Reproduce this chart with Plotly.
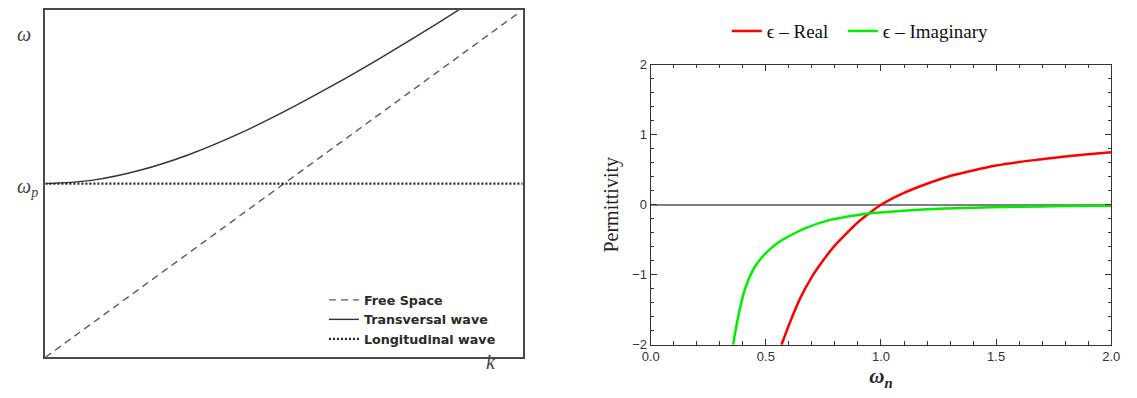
import plotly.graph_objects as go

# ---------------- data: left panel (dispersion relation) ----------------
k_free = [0.0, 0.99]
w_free = [0.0, 0.99]

k_trans = [0.0, 0.1, 0.2, 0.3, 0.4, 0.5, 0.6, 0.7, 0.8, 0.866]
w_trans = [0.500, 0.510, 0.539, 0.583, 0.640, 0.707, 0.781, 0.860, 0.943, 1.000]

k_long = [0.0, 1.0]
w_long = [0.50, 0.50]

# ---------------- data: right panel (permittivity) ----------------
wn_real = [0.568, 0.60, 0.65, 0.70, 0.75, 0.80, 0.85, 0.90, 0.95, 1.0,
           1.1, 1.2, 1.3, 1.4, 1.5, 1.6, 1.7, 1.8, 1.9, 2.0]
eps_real = [-2.0, -1.72, -1.33, -1.03, -0.79, -0.58, -0.41, -0.25, -0.12, 0.0,
            0.17, 0.30, 0.41, 0.49, 0.56, 0.61, 0.65, 0.69, 0.72, 0.75]

wn_imag = [0.358, 0.38, 0.41, 0.45, 0.50, 0.55, 0.60, 0.675, 0.775, 0.90,
           1.0, 1.2, 1.4, 1.6, 1.8, 2.0]
eps_imag = [-2.0, -1.60, -1.20, -0.90, -0.69, -0.55, -0.45, -0.33, -0.22, -0.145,
            -0.11, -0.065, -0.042, -0.028, -0.019, -0.013]

x_ticks = [0.0, 0.5, 1.0, 1.5, 2.0]
x_tick_text = ["0.0", "0.5", "1.0", "1.5", "2.0"]
y_ticks = [-2, -1, 0, 1, 2]

SERIF = "Liberation Serif"
SANS = "Liberation Sans"
LEG = "DejaVu Sans"

W, H = 1137, 398


def px(x):
    return x / W


def py(y):
    return 1 - y / H


fig = go.Figure()

# left panel traces
fig.add_trace(go.Scatter(x=k_free, y=w_free, mode="lines", name="<b>Free Space</b>",
                         line=dict(color="#5a5a5a", width=1.4, dash="7px,5px"),
                         xaxis="x", yaxis="y", legend="legend2"))
fig.add_trace(go.Scatter(x=k_trans, y=w_trans, mode="lines", name="<b>Transversal wave</b>",
                         line=dict(color="#333333", width=1.4, shape="spline"),
                         xaxis="x", yaxis="y", legend="legend2"))
fig.add_trace(go.Scatter(x=k_long, y=w_long, mode="lines", name="<b>Longitudinal wave</b>",
                         line=dict(color="#222222", width=2.2, dash="2px,2px"),
                         xaxis="x", yaxis="y", legend="legend2"))

# right panel traces
fig.add_trace(go.Scatter(x=wn_real, y=eps_real, mode="lines", name="ϵ – Real\u00a0\u00a0",
                         line=dict(color="#ff0000", width=2.5, shape="spline"),
                         xaxis="x2", yaxis="y2", legend="legend"))
fig.add_trace(go.Scatter(x=wn_imag, y=eps_imag, mode="lines", name="ϵ – Imaginary",
                         line=dict(color="#00ee00", width=2.5, shape="spline"),
                         xaxis="x2", yaxis="y2", legend="legend"))

fig.update_layout(
    width=W, height=H,
    margin=dict(l=0, r=0, t=0, b=0),
    paper_bgcolor="white", plot_bgcolor="white",
    showlegend=True,
    xaxis=dict(domain=[px(37), px(522)], range=[0, 1], showticklabels=False, ticks="",
               showgrid=False, zeroline=False, showline=True, mirror=True,
               linecolor="#4a4a4a", linewidth=1.5, fixedrange=True),
    yaxis=dict(domain=[py(364), py(3)], range=[0, 1], showticklabels=False, ticks="",
               showgrid=False, zeroline=False, showline=True, mirror=True,
               linecolor="#4a4a4a", linewidth=1.5, fixedrange=True),
    xaxis2=dict(domain=[px(652), px(1120)], range=[0, 2], anchor="y2",
                tickvals=x_ticks, ticktext=x_tick_text, ticks="inside", ticklen=6, tickwidth=1,
                tickcolor="#333", mirror="allticks", showline=True, linecolor="#333", linewidth=1.2,
                showgrid=False, zeroline=False,
                minor=dict(dtick=0.1, ticks="inside", ticklen=3.5, tickwidth=1, tickcolor="#333"),
                tickfont=dict(family=SANS, size=13, color="#333"),
                title=dict(text="<b><i>ω<sub>n</sub></i></b>", font=dict(family=SERIF, size=21, color="#222"),
                           standoff=3)),
    yaxis2=dict(domain=[py(351), py(60)], range=[-2, 2], anchor="x2",
                tickvals=y_ticks, ticks="inside", ticklen=6, tickwidth=1,
                tickcolor="#333", mirror="allticks", showline=True, linecolor="#333", linewidth=1.2,
                showgrid=False, zeroline=True, zerolinecolor="#808080", zerolinewidth=2,
                minor=dict(dtick=0.2, ticks="inside", ticklen=3.5, tickwidth=1, tickcolor="#333"),
                tickfont=dict(family=SANS, size=13, color="#333"),
                title=dict(text="Permittivity", font=dict(family=SERIF, size=20, color="#222"),
                           standoff=8)),
    legend=dict(orientation="h", x=px(865), xanchor="center", y=py(25), yanchor="middle",
                font=dict(family=SERIF, size=19, color="#111"), bgcolor="rgba(0,0,0,0)",
                borderwidth=0),
    legend2=dict(orientation="v", x=px(320), xanchor="left", y=py(289), yanchor="top",
                 font=dict(family=LEG, size=12.7, color="#2a2a2a"), bgcolor="rgba(0,0,0,0)",
                 borderwidth=0, tracegroupgap=0),
    annotations=[
        dict(text="<i>ω</i>", x=px(15), y=py(15), xref="paper", yref="paper",
             xanchor="center", showarrow=False, font=dict(family=SERIF, size=20, color="#444")),
        dict(text="<i>ω<sub>p</sub></i>", x=px(19), y=py(188), xref="paper", yref="paper",
             xanchor="center", showarrow=False, font=dict(family=SERIF, size=20, color="#444")),
        dict(text="<i>k</i>", x=px(490), y=py(382), xref="paper", yref="paper",
             xanchor="center", showarrow=False, font=dict(family=SERIF, size=20, color="#444")),
    ],
)

fig.write_html("out.html")
